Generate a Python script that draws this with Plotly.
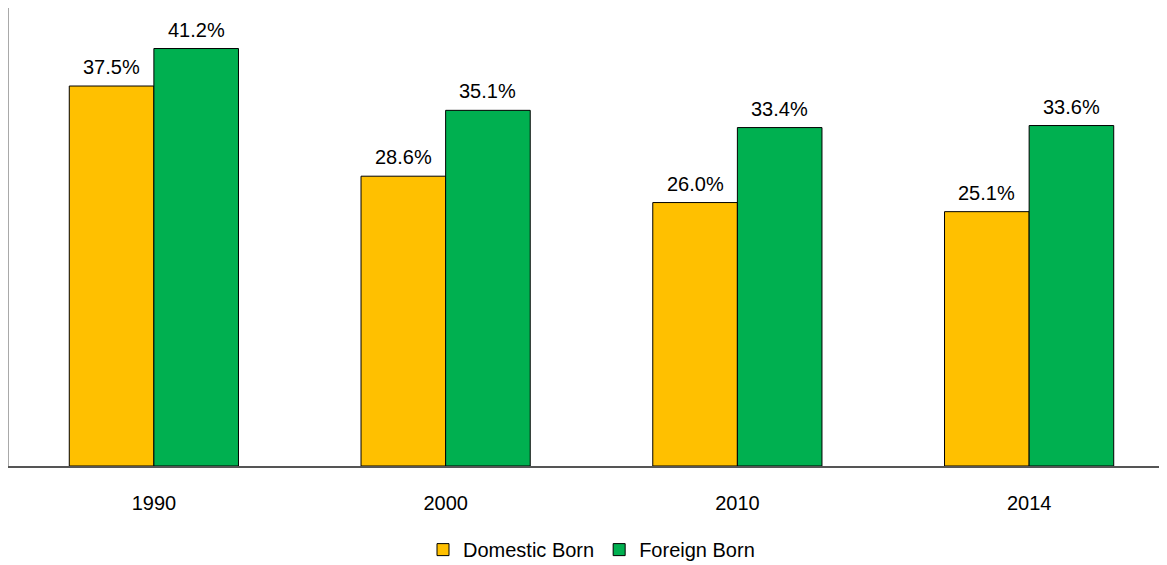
import plotly.graph_objects as go

years = ["1990", "2000", "2010", "2014"]
domestic = [37.5, 28.6, 26.0, 25.1]
foreign = [41.2, 35.1, 33.4, 33.6]

bargap = 0.42
half = (1 - bargap) / 4

fig = go.Figure()
fig.add_bar(name="Domestic Born", x=years, y=domestic, marker=dict(color="#FFC000", line=dict(color="black", width=1)))
fig.add_bar(name="Foreign Born", x=years, y=foreign, marker=dict(color="#00B050", line=dict(color="black", width=1)))
for i, (d, f) in enumerate(zip(domestic, foreign)):
    for off, v in ((-half, d), (half, f)):
        fig.add_annotation(x=i + off, y=v, text=f"{v:.1f}%", showarrow=False, yanchor="bottom", yshift=6,
                           font=dict(size=20))
fig.update_layout(
    width=1167, height=565, barmode="group", bargap=bargap, bargroupgap=0,
    plot_bgcolor="white", paper_bgcolor="white",
    margin=dict(l=0, r=0, t=0, b=107, autoexpand=False),
    font=dict(family="Liberation Sans, Arial", size=20, color="black"),
    xaxis=dict(showline=True, linecolor="#555", linewidth=2, ticks="", tickfont=dict(size=20), ticklabelstandoff=18, automargin=False),
    yaxis=dict(range=[0, 45.2], visible=False, automargin=False),
    legend=dict(orientation="h", x=0.5, xanchor="center", y=-0.14, yanchor="top", font=dict(size=20), itemwidth=30),
    shapes=[dict(type="line", xref="paper", yref="paper", x0=0, x1=0, y0=0, y1=1, line=dict(color="#555", width=1))],
)
fig.write_html("out.html")
